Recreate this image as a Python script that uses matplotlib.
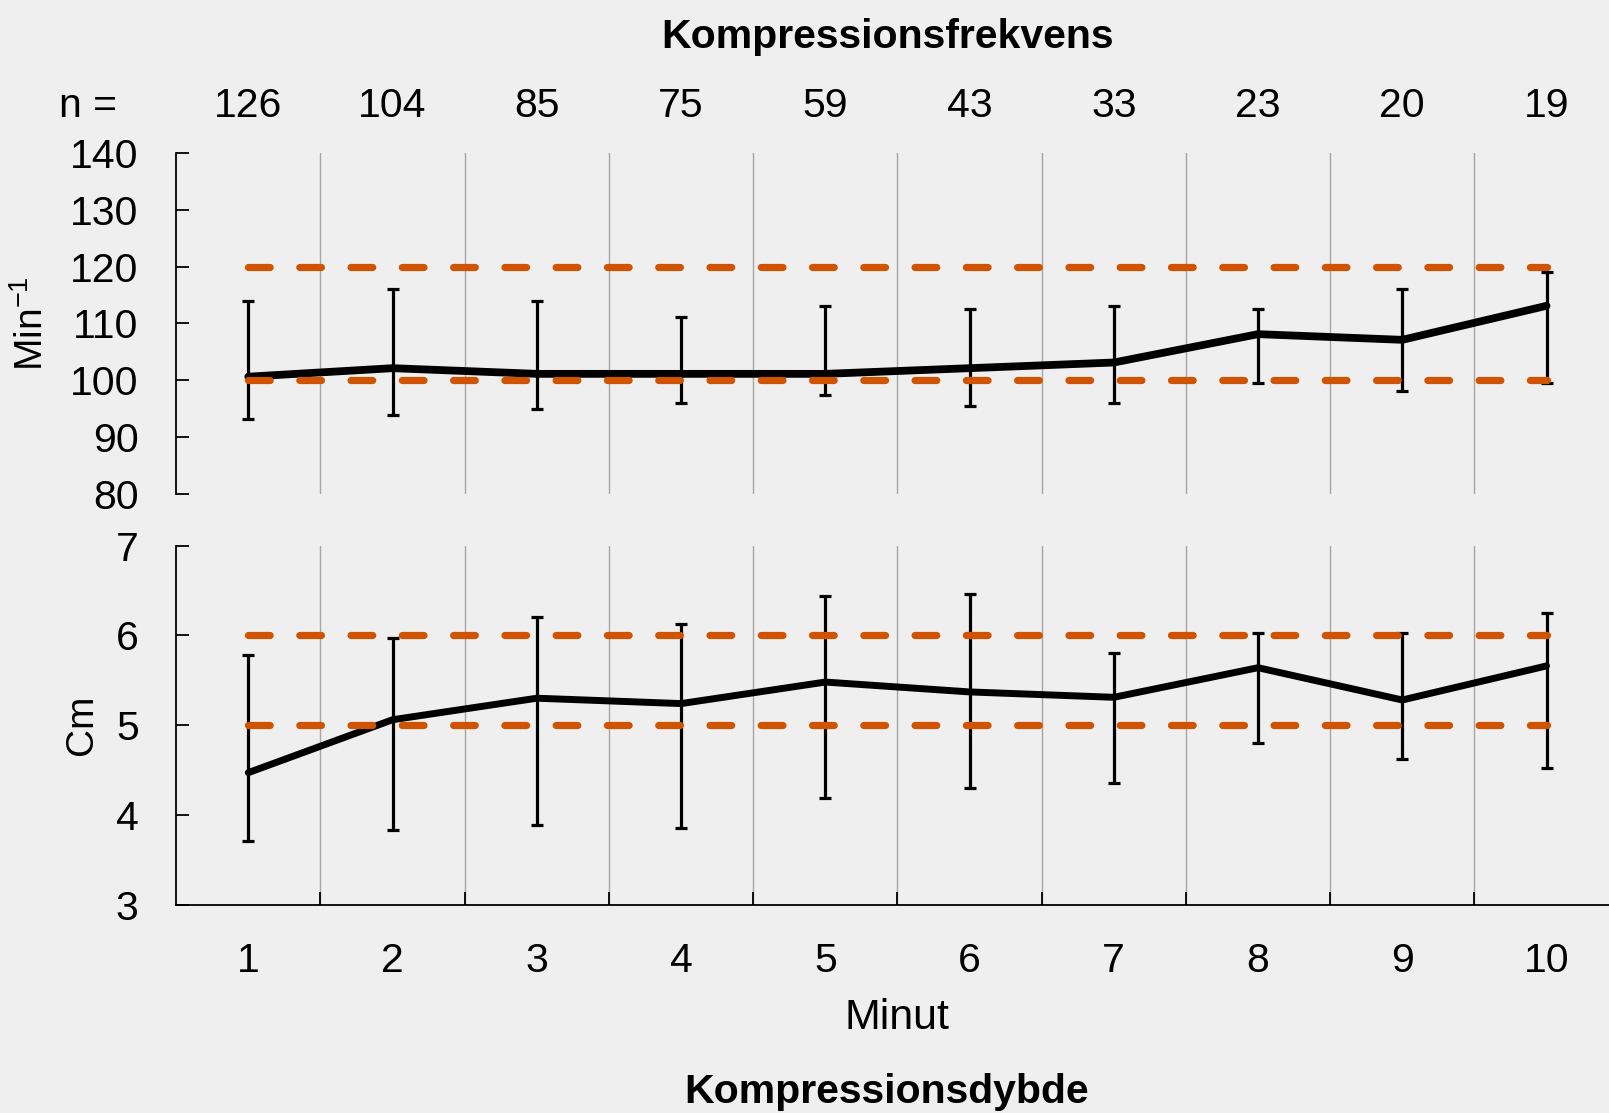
import matplotlib
matplotlib.use("Agg")
import matplotlib.pyplot as plt
from matplotlib.transforms import blended_transform_factory

# data
minutes = [1, 2, 3, 4, 5, 6, 7, 8, 9, 10]
n_values = [126, 104, 85, 75, 59, 43, 33, 23, 20, 19]

freq_mean = [100.6, 102.1, 101.1, 101.1, 101.1, 102.1, 103.1, 108.1, 107.1, 113.1]
freq_low = [93.2, 93.8, 94.9, 96.0, 97.4, 95.5, 95.9, 99.5, 98.0, 99.5]
freq_high = [114.0, 116.0, 114.0, 111.1, 113.1, 112.5, 113.1, 112.5, 116.0, 119.1]
freq_limits = [100, 120]
freq_ticks = [80, 90, 100, 110, 120, 130, 140]

depth_mean = [4.47, 5.06, 5.30, 5.24, 5.48, 5.37, 5.31, 5.64, 5.28, 5.66]
depth_low = [3.71, 3.83, 3.89, 3.85, 4.19, 4.30, 4.36, 4.80, 4.62, 4.52]
depth_high = [5.78, 5.97, 6.21, 6.13, 6.44, 6.46, 5.80, 6.03, 6.03, 6.25]
depth_limits = [5, 6]
depth_ticks = [3, 4, 5, 6, 7]

BG = "#efefef"
ORANGE = "#d05300"
GRID = "#a6a6a6"
REG = ["Liberation Sans", "DejaVu Sans"]

plt.rcParams["font.family"] = REG
plt.rcParams["mathtext.fontset"] = "custom"
plt.rcParams["mathtext.rm"] = "Liberation Sans"
plt.rcParams["mathtext.it"] = "Liberation Sans:italic"


def style_axes(ax, ticks, show_x):
    ax.set_facecolor(BG)
    ax.set_xlim(0.5, 10.5)
    ax.set_ylim(ticks[0], ticks[-1])
    ax.spines["top"].set_visible(False)
    ax.spines["right"].set_visible(False)
    ax.spines["bottom"].set_visible(show_x)
    for s in ("left", "bottom"):
        ax.spines[s].set_linewidth(1.3)

    bounds = [m + 0.5 for m in minutes[:-1]]
    ax.set_xticks(bounds)
    ax.set_xticklabels([])
    ax.set_xticks(minutes, minor=True)
    ax.set_xticklabels([str(m) for m in minutes] if show_x else [], minor=True)
    ax.grid(axis="x", which="major", color=GRID, linewidth=1.0, zorder=0)

    ax.set_yticks(ticks)
    ax.tick_params(axis="y", direction="in", length=9.5, width=1.3,
                   labelsize=29.5, pad=27)
    ax.tick_params(axis="x", which="major", direction="in",
                   length=9.5 if show_x else 0, width=1.3)
    ax.tick_params(axis="x", which="minor", length=0, labelsize=29.5, pad=27)


def draw_panel(ax, mean, low, high, limits, lw):
    err = [[m - lo for m, lo in zip(mean, low)], [hi - m for m, hi in zip(mean, high)]]
    ax.errorbar(minutes, mean, yerr=err, fmt="none", ecolor="black",
                elinewidth=2.3, capsize=4.5, capthick=2.3, zorder=3)
    ax.plot(minutes, mean, color="black", linewidth=lw,
            solid_joinstyle="round", solid_capstyle="round", zorder=4)
    for lim in limits:
        ax.plot([minutes[0], minutes[-1]], [lim, lim], color=ORANGE, linewidth=5.2,
                dashes=(3.0, 4.1), dash_capstyle="round", zorder=5)


fig = plt.figure(figsize=(16.09, 11.13), dpi=100, facecolor=BG)
ax_top = fig.add_axes([0.1095, 0.5566, 0.8965, 0.3057])
ax_bot = fig.add_axes([0.1095, 0.1873, 0.8965, 0.3224])

style_axes(ax_top, freq_ticks, show_x=False)
style_axes(ax_bot, depth_ticks, show_x=True)

draw_panel(ax_top, freq_mean, freq_low, freq_high, freq_limits, lw=5.6)
draw_panel(ax_bot, depth_mean, depth_low, depth_high, depth_limits, lw=5.0)

ax_top.set_ylabel(r"Min$^{-1}$", fontsize=28, va="center")
ax_top.yaxis.set_label_coords(-0.1003, 0.5)
ax_bot.set_ylabel("Cm", fontsize=28, va="center")
ax_bot.yaxis.set_label_coords(-0.065, 0.5)
ax_bot.set_xlabel("Minut", fontsize=31, va="baseline")
ax_bot.xaxis.set_label_coords(0.5, -0.347)

# n per minute above the top panel
tr = blended_transform_factory(ax_top.transData, fig.transFigure)
for m, n in zip(minutes, n_values):
    ax_top.text(m, 0.8949, str(n), transform=tr, ha="center", va="baseline",
                fontsize=29.5, clip_on=False)
fig.text(0.0544, 0.8949, "n =", ha="center", va="baseline", fontsize=29.5)

fig.text(0.5513, 0.9569, "Kompressionsfrekvens", ha="center", va="baseline",
         fontsize=29.5, fontweight="bold")
fig.text(0.5513, 0.009, "Kompressionsdybde", ha="center", va="baseline",
         fontsize=29.5, fontweight="bold")

fig.savefig("out.png", dpi=100, facecolor=BG)
